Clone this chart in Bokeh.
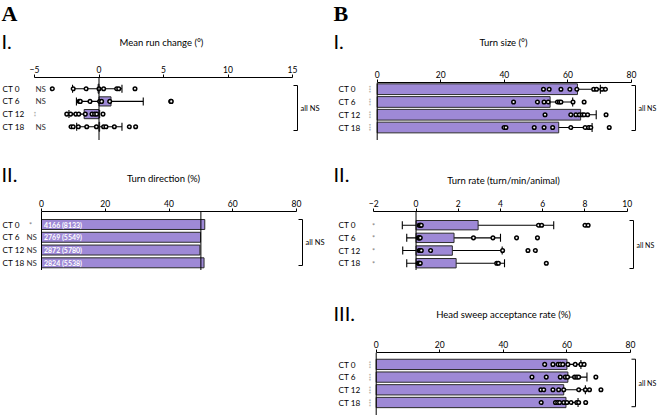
import math
from bokeh.plotting import figure
from bokeh.models import (Range1d, LinearAxis, FixedTicker, Label, ColumnDataSource,
                          Whisker, TeeHead, Spacer, Span)
from bokeh.layouts import row, column
from bokeh.core.properties import value
from bokeh.embed import file_html
from bokeh.resources import INLINE

# ---------------- data ----------------
rows = ["CT 0", "CT 6", "CT 12", "CT 18"]

# A-I  Mean run change (deg)
a1_mean = [-0.07, 0.93, -1.15, 0.05]
a1_lo = [-2.05, -1.75, -2.33, -1.73]
a1_hi = [1.78, 3.43, 0.05, 1.78]
a1_points = [
    [-3.62, -2.0, -1.0, 0.0, 0.36, 1.37, 1.53, 2.79],
    [-1.55, -1.45, -0.7, 0.05, 0.2, 0.83, 5.56, 5.6],
    [-2.5, -2.2, -1.8, -1.57, -1.06, -0.54, -0.34, -0.18, 0.31],
    [-2.17, -2.0, -1.6, -0.95, -0.2, 0.36, 0.54, 1.19, 2.35, 2.84],
]
a1_sig = ["NS", "NS", "**", "NS"]
a1_ticks = [-5, 0, 5, 10, 15]

# A-II  Turn direction (%)
a2_left = [4166, 2769, 2872, 2824]
a2_total = [8133, 5549, 5780, 5538]
a2_sig = ["*", "NS", "NS", "NS"]
a2_ticks = [0, 20, 40, 60, 80]
a2_ref = 50

# B-I  Turn size (deg)
b1_mean = [63.0, 54.4, 64.0, 57.1]
b1_lo = [56.0, 47.6, 59.7, 45.8]
b1_hi = [70.2, 61.5, 68.9, 67.6]
b1_points = [
    [52.3, 54.1, 57.8, 60.6, 62.8, 68.1, 69.0, 70.7, 71.8],
    [42.9, 50.4, 52.5, 53.8, 56.7, 57.3, 57.8, 61.6, 65.1],
    [52.8, 60.9, 62.5, 63.6, 64.5, 65.1, 66.2, 72.0],
    [39.9, 40.5, 49.4, 52.5, 55.2, 60.9, 65.4, 66.5, 67.2, 73.0],
]
b1_sig = ["***", "***", "***", "***"]
b1_ticks = [0, 20, 40, 60, 80]

# B-II  Turn rate (turn/min/animal)
b2_mean = [2.94, 1.8, 1.72, 1.9]
b2_lo = [-0.65, -0.44, -0.63, -0.44]
b2_hi = [6.52, 4.0, 4.08, 4.19]
b2_points = [
    [0.15, 0.2, 0.2, 0.25, 5.8, 5.95, 8.0, 8.15],
    [0.1, 0.15, 0.15, 0.2, 2.72, 3.64, 4.76, 5.75],
    [0.15, 0.2, 0.2, 0.25, 0.69, 4.1, 5.3, 5.65],
    [0.1, 0.15, 0.15, 0.2, 3.82, 3.9, 6.17],
]
b2_sig = ["*", "*", "*", "*"]
b2_ticks = [-2, 0, 2, 4, 6, 8, 10]

# B-III  Head sweep acceptance rate (%)
b3_mean = [60.0, 60.3, 59.0, 59.7]
b3_lo = [55.6, 53.6, 51.9, 55.5]
b3_hi = [64.4, 66.3, 65.8, 63.5]
b3_points = [
    [53.0, 55.6, 57.2, 57.9, 58.7, 60.3, 62.6, 64.4, 65.4],
    [49.0, 53.5, 57.9, 59.5, 60.2, 62.4, 63.1, 63.7, 69.1],
    [51.8, 52.7, 55.6, 57.4, 59.0, 63.7, 65.8, 67.1, 70.7],
    [51.9, 56.4, 57.1, 57.7, 59.0, 60.0, 61.3, 63.1, 63.7, 65.9],
]
b3_sig = ["***", "***", "***", "***"]
b3_ticks = [0, 20, 40, 60, 80]

# ---------------- style ----------------
FONT = "Lato"
BAR = "#9e89d6"
W = 330
AX = 20  # room kept for the top axis inside each body figure


class Panel:
    def __init__(self, total_h, frame_top, px0, px1, a0, a1, ticks, row0, step):
        self.hh = int(round(frame_top)) - AX
        self.bh = total_h - self.hh
        self.row0 = row0
        self.step = step
        # header figure (titles)
        hd = figure(width=W, height=self.hh, x_range=Range1d(0, W), y_range=Range1d(self.hh, 0),
                    output_backend="svg", toolbar_location=None,
                    x_axis_location=None, y_axis_location=None,
                    min_border=0, outline_line_color=None)
        hd.xgrid.visible = False
        hd.ygrid.visible = False
        self.head = hd
        # body figure
        ppu = (px1 - px0) / (a1 - a0)
        xs = a0 - px0 / ppu
        xe = xs + W / ppu
        fh = self.bh - AX
        yt = -(row0 - frame_top) / step
        yb = yt + fh / step
        p = figure(width=W, height=self.bh, x_range=Range1d(xs, xe), y_range=Range1d(yb, yt),
                   output_backend="svg", toolbar_location=None,
                   x_axis_location=None, y_axis_location=None,
                   min_border_left=0, min_border_right=0, min_border_bottom=0,
                   min_border_top=AX, outline_line_color=None)
        p.xgrid.visible = False
        p.ygrid.visible = False
        ax = LinearAxis(ticker=FixedTicker(ticks=ticks), bounds=(a0, a1))
        ax.major_label_overrides = {t: ("\u2212" + str(abs(t)) if t < 0 else str(t)) for t in ticks}
        ax.major_tick_out = 3
        ax.major_tick_in = 0
        ax.minor_tick_out = 0
        ax.minor_tick_in = 0
        ax.axis_line_color = "black"
        ax.major_tick_line_color = "black"
        ax.major_label_text_font = FONT
        ax.major_label_text_font_size = "8.5px"
        ax.major_label_text_color = "black"
        ax.major_label_standoff = 2
        p.add_layout(ax, "above")
        self.p = p
        self.xs, self.ppu, self.yt, self.frame_top = xs, ppu, yt, frame_top

    def X(self, lx):
        return self.xs + lx / self.ppu

    def Y(self, ly):
        return self.yt + (ly - self.frame_top) / self.step

    def head_text(self, lx, ly, text, size, align="left", font=FONT, style="normal"):
        self.head.text(x=[lx], y=[ly], text=[text], text_font=value(font), text_font_size=size,
                       text_align=align, text_baseline="middle", text_color="black",
                       text_font_style=style)

    def lab(self, lx, ly, text, size="8px", align="left", color="black", angle=0.0):
        yb = self.bh - (ly - self.hh)
        self.p.add_layout(Label(x=lx, y=yb, x_units="screen", y_units="screen", text=text,
                                text_font=FONT, text_font_size=size, text_align=align,
                                text_baseline="middle", text_color=color, angle=angle))

    def row_labels(self, lx, labels):
        for i, t in enumerate(labels):
            self.lab(lx, self.row0 + i * self.step, t, size="8.2px")

    def sig_labels(self, lx, sigs, star_x=None):
        for i, t in enumerate(sigs):
            ly = self.row0 + i * self.step
            if t.startswith("*") and len(t) > 1:
                self.lab(lx, ly, t, size="6px", align="center", color="#808080", angle=math.pi / 2)
            elif t == "*":
                sx = lx if star_x is None else star_x
                self.lab(sx, ly + 1, t, size="7.5px", align="center", color="#808080")
            else:
                self.lab(lx, ly, t, size="8px", color="#333333")

    def bracket(self, lx, ly0, ly1, text, tick=4, size="7.5px"):
        X, Y = self.X, self.Y
        self.p.line([X(lx - tick), X(lx), X(lx), X(lx - tick)], [Y(ly0), Y(ly0), Y(ly1), Y(ly1)],
                    line_color="black", line_width=1)
        self.lab(lx + 3, (ly0 + ly1) / 2, text, size=size)

    def zero(self, loc=0):
        self.p.add_layout(Span(location=loc, dimension="height", line_color="black", line_width=1))

    def bars_err_points(self, mean, lo, hi, points, bar_h, cap=8):
        p = self.p
        idx = list(range(len(mean)))
        p.hbar(y=idx, left=0, right=mean, height=bar_h, fill_color=BAR,
               line_color="#2b2b2b", line_width=1)
        src = ColumnDataSource(dict(y=idx, lo=lo, hi=hi))
        w = Whisker(source=src, base="y", lower="lo", upper="hi", dimension="width",
                    line_color="black", line_width=1.1,
                    upper_head=TeeHead(size=cap, line_color="black", line_width=1.1),
                    lower_head=TeeHead(size=cap, line_color="black", line_width=1.1))
        p.add_layout(w)
        px, py = [], []
        for i, pts in enumerate(points):
            px += pts
            py += [i] * len(pts)
        p.scatter(px, py, marker="circle", size=3.6, fill_color="#f4f4f4",
                  line_color="black", line_width=1.5)

    def figs(self):
        return [self.head, self.p]


# ---------------- A-I ----------------
A1 = Panel(140, 77, 34, 292, -5, 15, a1_ticks, 88.2, 12.7)
A1.zero(0)
A1.bars_err_points(a1_mean, a1_lo, a1_hi, a1_points, 0.72)
A1.head_text(1, 13, "A", "22px", font="Liberation Serif", style="bold")
A1.head_text(1, 40, "I.", "20px")
A1.head_text(161, 42, "Mean run change (\u00b0)", "9.5px", align="center")
A1.row_labels(2, rows)
A1.sig_labels(35, a1_sig)
A1.bracket(297, 85, 130, "all NS")

# ---------------- A-II ----------------
A2 = Panel(130, 71, 41, 296, 0, 80, a2_ticks, 84, 12.77)
a2_pct = [100.0 * l / t for l, t in zip(a2_left, a2_total)]
A2.zero(0)
A2.p.hbar(y=list(range(4)), left=0, right=a2_pct, height=0.78, fill_color=BAR,
          line_color="#2b2b2b", line_width=1)
A2.zero(a2_ref)
A2.p.text(x=[0] * 4, y=list(range(4)), text=[f"{l} ({t})" for l, t in zip(a2_left, a2_total)],
          x_offset=2.5, text_baseline="middle", text_align="left", text_color="white",
          text_font=value(FONT), text_font_size="7px", text_font_style="bold")
A2.head_text(1, 33, "II.", "20px")
A2.head_text(163, 38, "Turn direction (%)", "9.5px", align="center")
A2.row_labels(2, rows)
A2.sig_labels(26, a2_sig, star_x=30)
A2.bracket(302, 79, 125, "all NS")

# ---------------- B-I ----------------
B1 = Panel(140, 82, 46.7, 301, 0, 80, b1_ticks, 88.7, 12.77)
B1.zero(0)
B1.bars_err_points(b1_mean, b1_lo, b1_hi, b1_points, 0.84, cap=9)
B1.head_text(3, 13, "B", "22px", font="Liberation Serif", style="bold")
B1.head_text(3, 40, "I.", "20px")
B1.head_text(173, 42, "Turn size (\u00b0)", "9.5px", align="center")
B1.row_labels(8, rows)
B1.sig_labels(40, b1_sig)
B1.bracket(305, 85, 130, "all NS", size="7px")

# ---------------- B-II ----------------
B2 = Panel(130, 71, 43.3, 296.7, -2, 10, b2_ticks, 84.7, 12.67)
B2.zero(0)
B2.bars_err_points(b2_mean, b2_lo, b2_hi, b2_points, 0.74, cap=8)
B2.head_text(3, 33, "II.", "20px")
B2.head_text(173, 40, "Turn rate (turn/min/animal)", "9.5px", align="center")
B2.row_labels(8, rows)
B2.sig_labels(43, b2_sig)
B2.bracket(303, 80, 128, "all NS", size="7px")

# ---------------- B-III ----------------
B3 = Panel(145, 82.3, 45.7, 300, 0, 80, b3_ticks, 94.2, 12.7)
B3.zero(0)
B3.bars_err_points(b3_mean, b3_lo, b3_hi, b3_points, 0.81, cap=9)
B3.head_text(3, 42, "III.", "20px")
B3.head_text(173, 44, "Head sweep acceptance rate (%)", "9.5px", align="center")
B3.row_labels(8, rows)
B3.sig_labels(40, b3_sig)
B3.bracket(305, 89, 136.5, "all NS", size="7px")

left = column(*A1.figs(), *A2.figs(), Spacer(width=W, height=145))
right = column(*B1.figs(), *B2.figs(), *B3.figs())
layout = row(left, right)

open("out.html", "w").write(file_html(layout, INLINE))
